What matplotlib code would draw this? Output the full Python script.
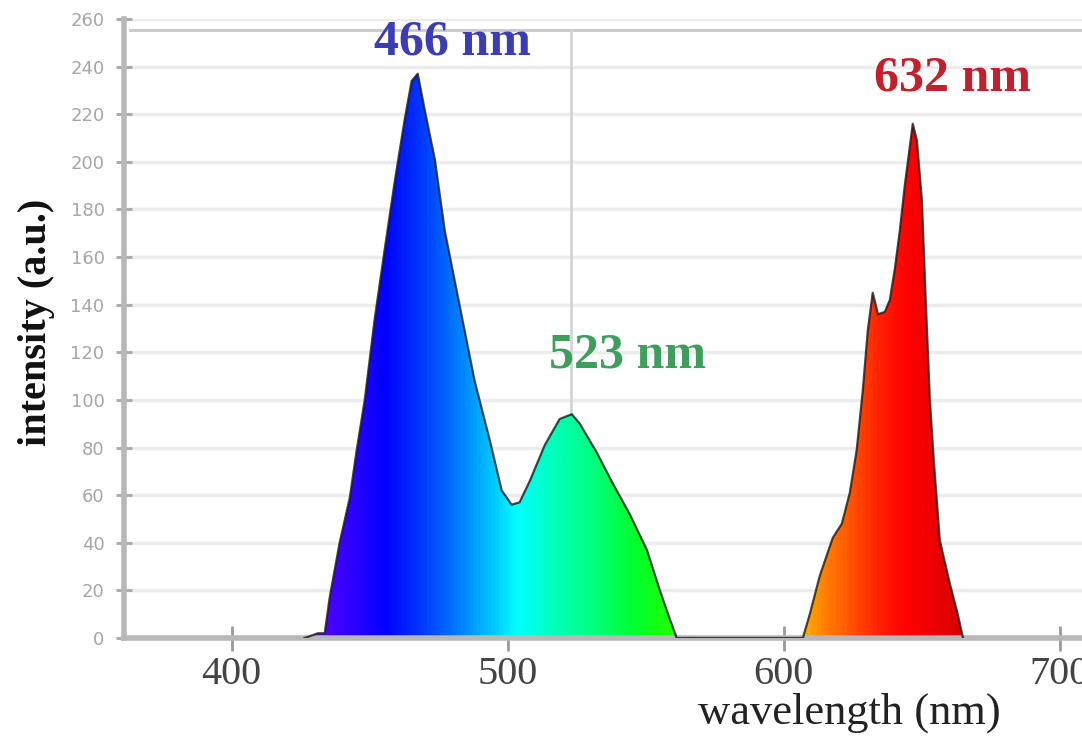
import matplotlib
matplotlib.use("Agg")
import matplotlib.pyplot as plt
import numpy as np
from matplotlib.colors import LinearSegmentedColormap

# emission spectrum (wavelength nm, intensity a.u.)
wavelength = [426.4, 431.2, 433.7, 435.5, 439.1, 442.8, 445.3, 448.2, 451.8, 455.4,
              459.1, 462.7, 465.2, 467.4, 469.9, 473.6, 477.2, 480.8, 484.4, 488.0,
              493.5, 497.8, 501.4, 504.3, 508.0, 513.4, 518.8, 523.2, 526.1, 532.2,
              538.0, 544.2, 550.4, 555.1, 558.7, 561.2, 585.0, 606.9, 609.4, 613.0,
              617.7, 621.0, 623.9, 626.4, 628.6, 630.4, 632.2, 634.1, 636.6, 638.4,
              640.2, 642.0, 643.8, 645.7, 646.7, 648.2, 650.0, 651.4, 652.9, 654.3,
              656.5, 660.1, 663.0, 664.9]
intensity = [0, 2, 2, 17, 40, 59, 79, 100, 134, 163,
             192, 218, 234, 237, 222, 201, 171, 150, 129, 108,
             83, 62, 56, 57, 66, 81, 92, 94, 90, 78,
             65, 52, 37, 20, 8, 0, 0, 0, 10, 26,
             42, 48, 61, 79, 104, 129, 145, 136, 137, 142,
             155, 171, 190, 207, 216, 209, 184, 142, 100, 75,
             41, 23, 10, 0]

peak_labels = ["466 nm", "523 nm", "632 nm"]
peak_label_pos = [(480, 250), (543.5, 118.5), (661, 235)]
peak_colors = ["#3c3cb4", "#3e9e5c", "#c41f2c"]

y_ticks = list(range(0, 261, 20))
x_ticks = [400, 500, 600, 700]

# colour of the fill as a function of wavelength
spectrum_stops = [(361, "#5a00ff"), (430, "#5a00ff"), (442, "#3000ff"), (455, "#0000ff"),
                  (470, "#0040ff"), (485, "#0090ff"), (497, "#00d8ff"), (503, "#00ffff"),
                  (515, "#00ffc0"), (530, "#00ff80"), (545, "#00ff30"), (560, "#20ff00"),
                  (585, "#ffd000"), (607, "#ffb000"), (615, "#ff8000"), (625, "#ff5000"),
                  (635, "#ff2000"), (645, "#ff0000"), (665, "#d80000"), (708, "#d80000")]

x_min, x_max = 361, 708
stops = [((w - x_min) / (x_max - x_min), c) for w, c in spectrum_stops]
spec_cmap = LinearSegmentedColormap.from_list("spectrum", stops)

fig = plt.figure(figsize=(10.82, 7.37), dpi=100)
ax = fig.add_axes([0.1146, 0.1343, 0.8854, 0.8399])
ax.set_xlim(x_min, x_max)
ax.set_ylim(0, 260)

# grid and cursor lines
for t in y_ticks[1:]:
    ax.axhline(t, color="#ececec", lw=2.5, zorder=0)
ax.axhline(255.5, xmin=0.006, color="#c8c8c8", lw=2, zorder=0.5)
ax.axvline(523, ymax=255.5 / 260, color="#d4d4d4", lw=2, zorder=0.5)

# gradient fill clipped to the spectrum
poly = ax.fill_between(wavelength, intensity, 0, color="none", lw=0)
grad = np.linspace(0, 1, 800).reshape(1, -1)
img = ax.imshow(grad, extent=[x_min, x_max, 0, 260], aspect="auto",
                cmap=spec_cmap, zorder=2, interpolation="bilinear")
img.set_clip_path(poly.get_paths()[0], transform=ax.transData)
ax.plot(wavelength, intensity, color="#1a1a1a", lw=1.6, alpha=0.8, zorder=3)

for label, (px, py), c in zip(peak_labels, peak_label_pos, peak_colors):
    ax.text(px, py, label, color=c, fontsize=36, fontweight="bold",
            family="Liberation Serif", ha="center", va="center", zorder=4)

for s in ["top", "right"]:
    ax.spines[s].set_visible(False)
for s in ["left", "bottom"]:
    ax.spines[s].set_color("#b8b8b8")
    ax.spines[s].set_linewidth(4)

ax.set_yticks(y_ticks)
ax.set_yticklabels([str(t) for t in y_ticks])
ax.set_xticks(x_ticks)
ax.set_xticklabels([str(t) for t in x_ticks])
ax.tick_params(axis="y", direction="inout", length=12, width=2, color="#a8a8a8",
               labelsize=13, labelcolor="#a6a6a6", pad=8)
ax.tick_params(axis="x", direction="inout", length=18, width=2, color="#9a9a9a",
               labelsize=29, labelcolor="#444444", pad=4)
for lbl in ax.get_xticklabels():
    lbl.set_family("Liberation Serif")

ax.set_ylabel("intensity (a.u.)", fontsize=29, fontweight="bold",
              family="Liberation Serif", color="#111111")
ax.yaxis.set_label_coords(-0.072, 0.51)
ax.set_xlabel("wavelength (nm)", fontsize=32, family="Liberation Serif", color="#222222")
ax.xaxis.set_label_coords(0.757, -0.088)

fig.savefig("out.png", dpi=100)
